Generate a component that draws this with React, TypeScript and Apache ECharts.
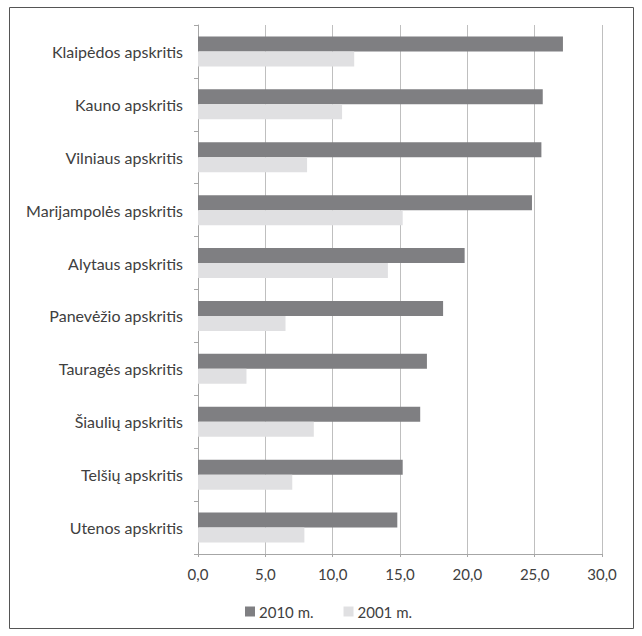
import React, { useEffect, useRef } from "react";
import * as echarts from "echarts";

const regions = [
  "Klaipėdos apskritis",
  "Kauno apskritis",
  "Vilniaus apskritis",
  "Marijampolės apskritis",
  "Alytaus apskritis",
  "Panevėžio apskritis",
  "Tauragės apskritis",
  "Šiaulių apskritis",
  "Telšių apskritis",
  "Utenos apskritis",
];

const values2010 = [27.1, 25.6, 25.5, 24.8, 19.8, 18.2, 17.0, 16.5, 15.2, 14.8];
const values2001 = [11.6, 10.7, 8.1, 15.2, 14.1, 6.5, 3.6, 8.6, 7.0, 7.9];

const seriesNames = ["2010 m.", "2001 m."];

const FONT = "Lato, 'Open Sans', sans-serif";
const TEXT = "#404040";

export default function App() {
  const ref = useRef<HTMLDivElement>(null);

  useEffect(() => {
    if (!ref.current) return;
    const chart = echarts.init(ref.current, undefined, { renderer: "svg" });
    chart.setOption({
      animation: false,
      backgroundColor: "#ffffff",
      textStyle: { fontFamily: FONT },
      graphic: [
        {
          type: "rect",
          shape: { x: 9.5, y: 7.5, width: 624, height: 621 },
          style: { fill: "none", stroke: "#555555", lineWidth: 1 },
          silent: true,
        },
      ],
      grid: { left: 198, right: 40, top: 25, bottom: 82, containLabel: false },
      legend: {
        bottom: 12,
        left: 240,
        itemWidth: 10,
        itemHeight: 10,
        itemGap: 30,
        icon: "rect",
        textStyle: { color: TEXT, fontSize: 15, fontFamily: FONT, padding: [0, 0, 0, -1] },
        data: seriesNames,
      },
      xAxis: {
        type: "value",
        min: 0,
        max: 30,
        interval: 5,
        axisLine: { show: true, lineStyle: { color: "#a6a6a6" } },
        axisTick: { show: true, length: 3, lineStyle: { color: "#a6a6a6" } },
        splitLine: { show: true, lineStyle: { color: "#bfbfbf" } },
        axisLabel: {
          color: TEXT,
          fontSize: 15,
          fontFamily: FONT,
          margin: 12,
          formatter: (v: number) => v.toFixed(1).replace(".", ","),
        },
      },
      yAxis: {
        type: "category",
        inverse: true,
        data: regions,
        axisLine: { show: true, lineStyle: { color: "#a6a6a6" } },
        axisTick: { show: true, length: 4, lineStyle: { color: "#a6a6a6" } },
        axisLabel: { color: TEXT, fontSize: 16, fontFamily: FONT, margin: 15 },
      },
      series: [
        {
          name: seriesNames[0],
          type: "bar",
          data: values2010,
          barWidth: 15,
          barGap: "0%",
          itemStyle: { color: "#7f7f82" },
        },
        {
          name: seriesNames[1],
          type: "bar",
          data: values2001,
          barWidth: 15,
          barGap: "0%",
          itemStyle: { color: "#e0e0e2" },
        },
      ],
    });
    return () => chart.dispose();
  }, []);

  return (
    <div
      ref={ref}
      style={{ position: "fixed", left: 0, top: 0, width: 642, height: 636 }}
    />
  );
}
